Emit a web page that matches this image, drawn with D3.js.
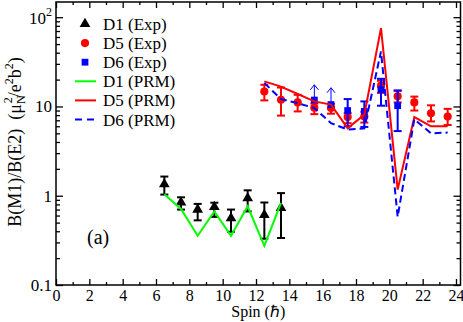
<!DOCTYPE html>
<html>
<head>
<meta charset="utf-8">
<script src="https://d3js.org/d3.v7.min.js"></script>
<style>
  body { margin: 0; background: #fff; }
  text { font-family: "Liberation Serif", "Times New Roman", serif; fill: #000; }
  .axis path { display: none; }
  .axis line { stroke: #000; stroke-width: 1.3; }
  .axis text { font-size: 16px; }
</style>
</head>
<body>
<script>
// ---- data ----
var spinD1 = [6.5, 7.5, 8.5, 9.5, 10.5, 11.5, 12.5, 13.5];
var d1Exp  = [1.35, 0.84, 0.70, 0.75, 0.56, 0.94, 0.61, 0.73];
var d1Lo   = [1.03, 0.70, 0.53, 0.58, 0.395, 0.667, 0.33, 0.336];
var d1Hi   = [1.64, 0.96, 0.81, 0.835, 0.70, 1.15, 0.84, 1.07];
var d1Prm  = [1.04, 0.71, 0.356, 0.667, 0.356, 0.76, 0.275, 0.83];

var spinD5 = [12.5, 13.5, 14.5, 15.5, 16.5, 17.5, 18.5, 19.5, 20.5, 21.5, 22.5, 23.5];
var d5Exp  = [14.7, 11.9, 11.1, 9.7, 9.6, 7.6, 7.7, 17.1, 13.0, 11.1, 8.4, 7.7];
var d5Lo   = [11.7, 7.9, 8.8, 8.2, 8.3, 6.5, 6.6, 14.2, 11.1, 9.0, 6.8, 6.2];
var d5Hi   = [17.5, 16.3, 13.5, 10.8, 10.7, 8.4, 8.7, 19.4, 15.0, 12.9, 10.3, 9.4];
var d5Prm  = [19.1, 16.7, 13.8, 11.4, 10.5, 5.7, 8.1, 75.5, 1.17, 7.6, 6.0, 6.0];

var spinD6 = [15.5, 16.5, 17.5, 18.5, 19.5, 20.5];
var d6Exp  = [11.8, 10.5, 9.0, 8.8, 15.4, 10.2];
var d6Lo   = [null, null, 6.0, 5.9, 10.2, 5.3];   // null = lower limit (arrow)
var d6Hi   = [17.5, 16.2, 12.1, 11.4, 20.4, 15.1];
var d6Prm  = [18.3, 12.1, 10.9, 9.6, 6.5, 5.5, 5.7, 41.3, 0.58, 7.2, 5.0, 5.1];

var xMajor = [0, 2, 4, 6, 8, 10, 12, 14, 16, 18, 20, 22, 24];
var xMinor = [1, 3, 5, 7, 9, 11, 13, 15, 17, 19, 21, 23];
var yMajor = [0.1, 1, 10, 100];
var yMinor = [];
[0.1, 1, 10].forEach(function(d){ for (var k = 2; k <= 9; k++) yMinor.push(d * k); });

var legendItems = [
  {name: "D1 (Exp)", kind: "tri"},
  {name: "D5 (Exp)", kind: "circ"},
  {name: "D6 (Exp)", kind: "sq"},
  {name: "D1 (PRM)", kind: "line", color: "#00ff00"},
  {name: "D5 (PRM)", kind: "line", color: "#ff0000"},
  {name: "D6 (PRM)", kind: "dash", color: "#0000ff"}
];

var W = 463, H = 322;
var L = 56, R = 460.5, T = 2, B = 285;

var svg = d3.select("body").append("svg")
  .attr("width", W).attr("height", H);

var x = d3.scaleLinear().domain([0, 24.27]).range([L, R]);
var y = d3.scaleLog().domain([0.1, 148]).range([B, T]);

// ---- axes (ticks inward) ----
svg.append("g").attr("class", "axis")
  .attr("transform", "translate(0," + B + ")")
  .call(d3.axisBottom(x).tickValues(xMajor).tickSize(-6).tickPadding(5).tickFormat(d3.format("d")));
svg.append("g").attr("class", "axis")
  .attr("transform", "translate(0," + B + ")")
  .call(d3.axisBottom(x).tickValues(xMinor).tickSize(-3).tickFormat(""));
svg.append("g").attr("class", "axis")
  .attr("transform", "translate(0," + T + ")")
  .call(d3.axisTop(x).tickValues(xMajor).tickSize(-6).tickFormat(""));
svg.append("g").attr("class", "axis")
  .attr("transform", "translate(0," + T + ")")
  .call(d3.axisTop(x).tickValues(xMinor).tickSize(-3).tickFormat(""));

svg.append("g").attr("class", "axis")
  .attr("transform", "translate(" + L + ",0)")
  .call(d3.axisLeft(y).tickValues(yMajor).tickSize(-7).tickPadding(4)
    .tickFormat(function(d){ return d === 100 ? "" : (d < 1 ? "0.1" : String(d)); }))
  .selectAll("text").style("font-size", "17px");
svg.append("g").attr("class", "axis")
  .attr("transform", "translate(" + L + ",0)")
  .call(d3.axisLeft(y).tickValues(yMinor).tickSize(-4).tickFormat(""));
svg.append("g").attr("class", "axis")
  .attr("transform", "translate(" + R + ",0)")
  .call(d3.axisRight(y).tickValues(yMajor).tickSize(-7).tickFormat(""));
svg.append("g").attr("class", "axis")
  .attr("transform", "translate(" + R + ",0)")
  .call(d3.axisRight(y).tickValues(yMinor).tickSize(-4).tickFormat(""));

// 10^2 label
var t100 = svg.append("text").attr("x", L - 4).attr("y", y(100) + 7)
  .attr("text-anchor", "end").style("font-size", "17px");
t100.append("tspan").text("10");
t100.append("tspan").attr("dy", -8).style("font-size", "12px").text("2");

// frame
svg.append("rect").attr("x", L).attr("y", T).attr("width", R - L).attr("height", B - T)
  .attr("fill", "none").attr("stroke", "#000").attr("stroke-width", 1.5);

// axis titles
svg.append("text").attr("x", (L + R) / 2).attr("y", 317)
  .attr("text-anchor", "middle").style("font-size", "16px")
  .text("Spin (\u210F)");

var yt = svg.append("text")
  .attr("transform", "translate(21,142) rotate(-90)")
  .attr("text-anchor", "middle").style("font-size", "18px");
yt.append("tspan").text("B(M1)/B(E2)\u00a0\u00a0(\u03bc");
yt.append("tspan").attr("dy", 4).style("font-size", "12px").text("N");
yt.append("tspan").attr("dy", -13).attr("dx", -8).style("font-size", "12px").text("2");
yt.append("tspan").attr("dy", 9).text("/e");
yt.append("tspan").attr("dy", -8).style("font-size", "12px").text("2");
yt.append("tspan").attr("dy", 8).text("b");
yt.append("tspan").attr("dy", -8).style("font-size", "12px").text("2");
yt.append("tspan").attr("dy", 8).text(")");

svg.append("text").attr("x", 87).attr("y", 244).style("font-size", "20px").text("(a)");

// ---- helpers ----
function errBars(g, xs, lo, hi, color) {
  xs.forEach(function(s, i) {
    if (lo[i] == null) return;
    var cx = x(s);
    g.append("line").attr("x1", cx).attr("x2", cx).attr("y1", y(lo[i])).attr("y2", y(hi[i]))
      .attr("stroke", color).attr("stroke-width", 2);
    [lo[i], hi[i]].forEach(function(v) {
      g.append("line").attr("x1", cx - 4).attr("x2", cx + 4).attr("y1", y(v)).attr("y2", y(v))
        .attr("stroke", color).attr("stroke-width", 2);
    });
  });
}
var tri = d3.symbol().type(d3.symbolTriangle).size(50);
var circ = d3.symbol().type(d3.symbolCircle).size(52);
var sq = d3.symbol().type(d3.symbolSquare).size(46);

var data = svg.append("g");

// D1 exp
errBars(data, spinD1, d1Lo, d1Hi, "#000");
data.selectAll(".d1").data(spinD1).enter().append("path")
  .attr("d", tri).attr("fill", "#000")
  .attr("transform", function(d, i){ return "translate(" + x(d) + "," + y(d1Exp[i]) + ")"; });

// D5 exp
errBars(data, spinD5, d5Lo, d5Hi, "#ff0000");
data.selectAll(".d5").data(spinD5).enter().append("path")
  .attr("d", circ).attr("fill", "#ff0000")
  .attr("transform", function(d, i){ return "translate(" + x(d) + "," + y(d5Exp[i]) + ")"; });

// D6 exp
errBars(data, spinD6, d6Lo, d6Hi, "#0000ff");
spinD6.forEach(function(s, i) {
  if (d6Lo[i] != null) return;
  var cx = x(s), y0 = y(d6Exp[i]), y1 = y(d6Hi[i]);
  data.append("line").attr("x1", cx).attr("x2", cx).attr("y1", y0).attr("y2", y1)
    .attr("stroke", "#0000ff").attr("stroke-width", 1);
  data.append("path").attr("d", "M" + (cx - 4) + "," + (y1 + 5) + "L" + cx + "," + y1 + "L" + (cx + 4) + "," + (y1 + 5))
    .attr("fill", "none").attr("stroke", "#0000ff").attr("stroke-width", 1);
});
data.selectAll(".d6").data(spinD6).enter().append("path")
  .attr("d", sq).attr("fill", "#0000ff")
  .attr("transform", function(d, i){ return "translate(" + x(d) + "," + y(d6Exp[i]) + ")"; });

// PRM lines
var line = function(vals) {
  return d3.line().x(function(d){ return x(d); }).y(function(d, i){ return y(vals[i]); });
};
data.append("path").datum(spinD1).attr("d", line(d1Prm))
  .attr("fill", "none").attr("stroke", "#00ff00").attr("stroke-width", 2);
data.append("path").datum(spinD5).attr("d", line(d5Prm))
  .attr("fill", "none").attr("stroke", "#ff0000").attr("stroke-width", 2);
data.append("path").datum(spinD5).attr("d", line(d6Prm))
  .attr("fill", "none").attr("stroke", "#0000ff").attr("stroke-width", 2)
  .attr("stroke-dasharray", "7,4");

// ---- legend ----
var leg = svg.append("g");
legendItems.forEach(function(it, i) {
  var ly = 24 + i * 19.1;
  if (it.kind === "tri") leg.append("path").attr("d", tri).attr("fill", "#000").attr("transform", "translate(85," + ly + ")");
  if (it.kind === "circ") leg.append("path").attr("d", circ).attr("fill", "#ff0000").attr("transform", "translate(85," + ly + ")");
  if (it.kind === "sq") leg.append("path").attr("d", sq).attr("fill", "#0000ff").attr("transform", "translate(85," + ly + ")");
  if (it.kind === "line" || it.kind === "dash")
    leg.append("line").attr("x1", 75).attr("x2", 96).attr("y1", ly).attr("y2", ly)
      .attr("stroke", it.color).attr("stroke-width", 2)
      .attr("stroke-dasharray", it.kind === "dash" ? "7,5" : null);
  leg.append("text").attr("x", 103).attr("y", ly + 6).style("font-size", "17px").text(it.name);
});
</script>
</body>
</html>
